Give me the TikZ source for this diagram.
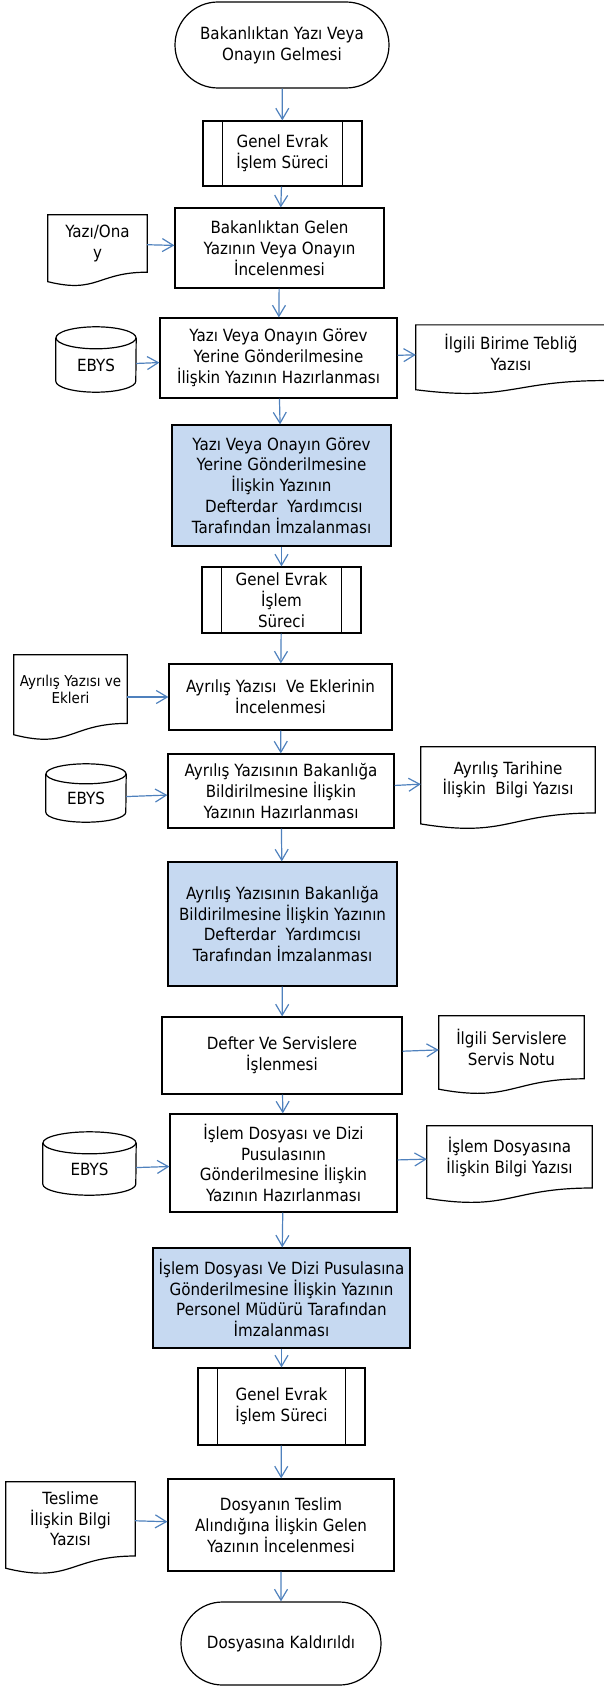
\documentclass[tikz,border=0pt]{standalone}
\usepackage{fontspec}
\setmainfont{DejaVu Sans}[FakeStretch=0.9]
\usetikzlibrary{shapes.misc,arrows.meta,calc}

\definecolor{okmavi}{HTML}{4F81BD}
\definecolor{kutumavi}{HTML}{C6D9F1}

\begin{document}
\begin{tikzpicture}[x=1pt, y=-1pt,
        every node/.style={align=center, inner sep=0pt, font=\fontsize{16.8}{20.8}\selectfont},
        term/.style={draw, line width=1.2pt, rounded rectangle},
        proc/.style={draw, line width=1.2pt, rectangle},
        imza/.style={proc, fill=kutumavi},
        alt/.style={proc},
        belge/.style={rectangle},
        vt/.style={rectangle}]
        \useasboundingbox (0,0) rectangle (604,1688);

        % ana akis
        \node[term, minimum width=214pt, minimum height=86pt] (Bas) at (282,45) {Bakanlıktan Yazı Veya\\Onayın Gelmesi};
        \node[alt, minimum width=159pt, minimum height=65pt] (G1) at (282.5,153.5) {Genel Evrak\\İşlem Süreci};
        \node[proc, minimum width=209pt, minimum height=80pt] (BG) at (279.5,248) {Bakanlıktan Gelen\\Yazının Veya Onayın\\İncelenmesi};
        \node[proc, minimum width=237pt, minimum height=80pt] (H1) at (278.5,358) {Yazı Veya Onayın Görev\\Yerine Gönderilmesine\\İlişkin Yazının Hazırlanması};
        \node[imza, minimum width=219pt, minimum height=121pt] (I1) at (281.5,485.5) {Yazı Veya Onayın Görev\\Yerine Gönderilmesine\\İlişkin Yazının\\~Defterdar~ Yardımcısı\\Tarafından İmzalanması};
        \node[alt, minimum width=159pt, minimum height=66pt] (G2) at (281.5,600) {Genel Evrak\\İşlem\\Süreci};
        \node[proc, minimum width=223pt, minimum height=66pt] (AY) at (280.5,697) {Ayrılış Yazısı~ Ve Eklerinin\\İncelenmesi};
        \node[proc, minimum width=226pt, minimum height=74pt] (H2) at (281,791) {Ayrılış Yazısının Bakanlığa\\Bildirilmesine İlişkin\\Yazının Hazırlanması};
        \node[imza, minimum width=229pt, minimum height=124pt] (I2) at (282.5,924) {Ayrılış Yazısının Bakanlığa\\Bildirilmesine İlişkin Yazının\\Defterdar~ Yardımcısı\\Tarafından İmzalanması};
        \node[proc, minimum width=240pt, minimum height=77pt] (DS) at (282,1055.5) {Defter Ve Servislere\\İşlenmesi};
        \node[proc, minimum width=227pt, minimum height=98pt] (H3) at (283.5,1163) {İşlem Dosyası ve Dizi\\Pusulasının\\Gönderilmesine İlişkin\\Yazının Hazırlanması};
        \node[imza, minimum width=257pt, minimum height=100pt] (I3) at (281.5,1298) {İşlem Dosyası Ve Dizi Pusulasına\\Gönderilmesine İlişkin Yazının\\Personel Müdürü Tarafından\\İmzalanması};
        \node[alt, minimum width=167pt, minimum height=77pt] (G3) at (281.5,1406.5) {Genel Evrak\\İşlem Süreci};
        \node[proc, minimum width=226pt, minimum height=92pt] (DT) at (281,1525) {Dosyanın Teslim\\Alındığına İlişkin Gelen\\Yazının İncelenmesi};
        \node[term, minimum width=200pt, minimum height=83pt] (Son) at (281,1643.5) {Dosyasına Kaldırıldı};

        % belgeler
        \node[belge, minimum width=99pt, minimum height=57pt] (D1) at (97.5,243.5) {Yazı/Ona\\y};
        \node[belge, minimum width=190pt, minimum height=55.3pt] (D2) at (511,352.7) {İlgili Birime Tebliğ\\Yazısı};
        \node[belge, minimum width=113pt, minimum height=68.2pt, font=\fontsize{15}{17}\selectfont] (D3) at (70.5,689.1) {Ayrılış Yazısı ve\\Ekleri};
        \node[belge, minimum width=174pt, minimum height=65.8pt] (D4) at (508,779.9) {Ayrılış Tarihine\\İlişkin~ Bilgi Yazısı};
        \node[belge, minimum width=145pt, minimum height=62.6pt] (D5) at (511.5,1047.3) {İlgili Servislere\\Servis Notu};
        \node[belge, minimum width=165pt, minimum height=61.8pt] (D6) at (509.5,1156.9) {İşlem Dosyasına\\İlişkin Bilgi Yazısı};
        \node[belge, minimum width=129pt, minimum height=73.8pt] (D7) at (70.5,1518.9) {Teslime\\İlişkin Bilgi\\Yazısı};

        % EBYS
        \node[vt, minimum width=80pt, minimum height=54pt] (E1) at (96,365) {EBYS};
        \node[vt, minimum width=80pt, minimum height=48pt] (E2) at (86,798) {EBYS};
        \node[vt, minimum width=93pt, minimum height=52pt] (E3) at (89.5,1169) {EBYS};

        \foreach \g in {G1,G2,G3}
                \draw[line width=1.2pt] ([xshift=20pt]\g.north west) -- ([xshift=20pt]\g.south west)
                        ([xshift=-20pt]\g.north east) -- ([xshift=-20pt]\g.south east);
        \foreach \d in {D1,D2,D3,D4,D5,D6,D7}
                \draw[line width=1.2pt] (\d.north west) -- (\d.north east) -- (\d.south east)
                        .. controls (\d.south) and ($(\d.south)!-0.38!(\d.north)$) .. ($(\d.south west)!-0.165!(\d.north west)$) -- cycle;
        \foreach \e/\rx/\ry in {E1/40/11, E2/40/10, E3/46.5/11} {
                \draw[line width=1.2pt] (\e.north) ellipse [x radius=\rx pt, y radius=\ry pt];
                \draw[line width=1.2pt] (\e.north west) -- ($(\e.south west)+(0,\ry pt)$)
                        arc [start angle=180, end angle=360, x radius=\rx pt, y radius=\ry pt] -- (\e.north east);
        }

        \begin{scope}[every path/.style={color=okmavi, line width=1.2pt, -{Straight Barb[length=11pt,width=13pt]}}]
                \path (Bas) edge (G1);
                \path (G1) edge (BG);
                \path (D1) edge (BG);
                \path (BG) edge (H1);
                \path (E1) edge (H1);
                \path (H1) edge (D2);
                \path (H1) edge (I1);
                \path (I1) edge (G2);
                \path (G2) edge (AY);
                \path (D3.east |- AY.west) edge (AY.west);
                \path (AY) edge (H2);
                \path (E2) edge (H2);
                \path (H2) edge (D4);
                \path (H2) edge (I2);
                \path (I2) edge (DS);
                \path (DS) edge (D5);
                \path (DS) edge (H3);
                \path (E3) edge (H3);
                \path (H3) edge (D6);
                \path (H3) edge (I3);
                \path (I3) edge (G3);
                \path (G3) edge (DT);
                \path (D7) edge (DT);
                \path (DT) edge (Son);
        \end{scope}
\end{tikzpicture}
\end{document}
